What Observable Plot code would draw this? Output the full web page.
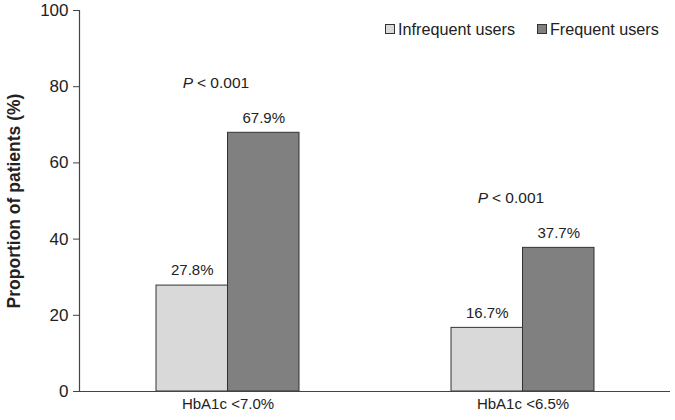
<!DOCTYPE html>
<html>
<head>
<meta charset="utf-8">
<script src="https://cdn.jsdelivr.net/npm/d3@7"></script>
<script src="https://cdn.jsdelivr.net/npm/@observablehq/plot@0.6"></script>
<style>
  html, body { margin: 0; padding: 0; background: #fff; }
  #wrap { position: relative; width: 675px; height: 420px; font-family: "Liberation Sans", Arial, sans-serif; }
  #legend { position: absolute; top: 20px; left: 385px; display: flex; gap: 22px; font-size: 16.2px; color: #222; line-height: 18px; }
  .item { display: flex; align-items: center; }
  .sw { width: 8px; height: 8px; border: 1px solid #333; margin-right: 3px; }
</style>
</head>
<body>
<div id="wrap"><div id="legend"></div></div>
<script>
const categories = ["HbA1c <7.0%", "HbA1c <6.5%"];
const series = ["Infrequent users", "Frequent users"];
const infrequent = [27.8, 16.7];
const frequent = [67.9, 37.7];
const pLabels = ["< 0.001", "< 0.001"];
const yTicks = [0, 20, 40, 60, 80, 100];
const yTitle = "Proportion of patients (%)";
const colors = ["#d9d9d9", "#808080"];

const W = 675, H = 420, mL = 79, mR = 5, mT = 10, mB = 29;
const padIn = 0.516, padOut = 0.258;
const step = (W - mL - mR) / (categories.length - padIn + 2 * padOut);
const bw = step * (1 - padIn);

const rowsInf = categories.map((c, i) => ({category: c, series: series[0], value: infrequent[i]}));
const rowsFreq = categories.map((c, i) => ({category: c, series: series[1], value: frequent[i], p: pLabels[i]}));

const chart = Plot.plot({
  width: W, height: H,
  marginLeft: mL, marginRight: mR, marginTop: mT, marginBottom: mB,
  style: {fontFamily: "'Liberation Sans', Arial, sans-serif", color: "#222", background: "white", overflow: "visible"},
  x: {domain: categories, paddingInner: padIn, paddingOuter: padOut, label: null},
  y: {domain: [0, 100], label: null},
  color: {domain: series, range: colors},
  marks: [
    Plot.barY(rowsInf, {x: "category", y: "value", fill: "series", stroke: "#333", strokeWidth: 1, insetRight: bw / 2}),
    Plot.barY(rowsFreq, {x: "category", y: "value", fill: "series", stroke: "#333", strokeWidth: 1, insetLeft: bw / 2}),
    Plot.text(rowsInf, {x: "category", y: "value", text: d => d.value.toFixed(1) + "%", dx: -bw / 4, dy: -15, fontSize: 15, fill: "#222"}),
    Plot.text(rowsFreq, {x: "category", y: "value", text: d => d.value.toFixed(1) + "%", dx: bw / 4, dy: -15, fontSize: 15, fill: "#222"}),
    Plot.text(rowsFreq, {x: "category", y: "value", text: () => "P", fontStyle: "italic", textAnchor: "end", dx: -35, dy: -50, fontSize: 15.5, fill: "#222"}),
    Plot.text(rowsFreq, {x: "category", y: "value", text: "p", textAnchor: "start", dx: -31, dy: -50, fontSize: 15.5, fill: "#222"}),
    Plot.ruleY([0], {stroke: "#444", strokeWidth: 1.2}),
    Plot.frame({anchor: "left", stroke: "#444", strokeWidth: 1.2}),
    Plot.axisY({ticks: yTicks, tickSize: 6, tickPadding: 5, fontSize: 17, label: null, stroke: "#444"}),
    Plot.axisX({tickSize: 0, tickPadding: 7, fontSize: 15, label: null}),
    Plot.text([yTitle], {frameAnchor: "left", text: d => d, rotate: -90, textAnchor: "middle", dx: -65, fontSize: 17.5, fontWeight: "bold", fill: "#222"})
  ]
});
document.getElementById("wrap").prepend(chart);

const legend = d3.select("#legend");
series.forEach((s, i) => {
  const it = legend.append("div").attr("class", "item");
  it.append("div").attr("class", "sw").style("background", colors[i]);
  it.append("span").text(s);
});
</script>
</body>
</html>
